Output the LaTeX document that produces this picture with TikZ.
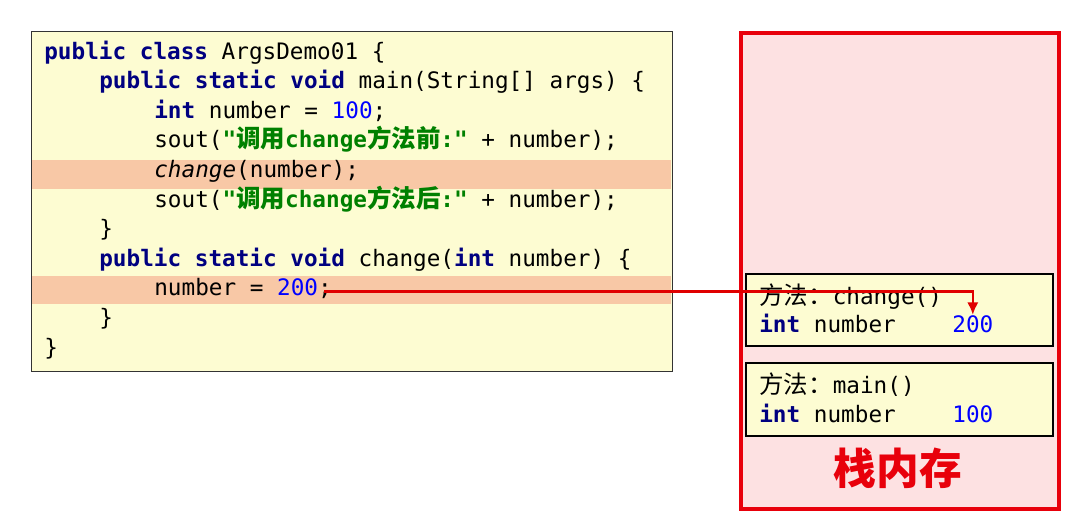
\documentclass[tikz,border=0pt]{standalone}
\usepackage{fontspec}
\setmonofont{DejaVu Sans Mono}
\newfontfamily\cjk[Scale=1.08]{Noto Sans CJK SC}
\usepackage{tikz}
\usetikzlibrary{arrows.meta}
\definecolor{codebg}{HTML}{FDFCD2}
\definecolor{band}{HTML}{F8C8A6}
\definecolor{kwnavy}{HTML}{000080}
\definecolor{numblue}{HTML}{0000FF}
\definecolor{strgreen}{HTML}{008000}
\definecolor{stackred}{HTML}{E8000B}
\definecolor{stackbg}{HTML}{FDE1E2}
\definecolor{arrowred}{HTML}{E00000}
\newcommand{\kwd}[1]{\textbf{\color{kwnavy}#1}}
\newcommand{\strg}[1]{\textbf{\color{strgreen}#1}}
\newcommand{\numv}[1]{{\color{numblue}#1}}

\begin{document}
\begin{tikzpicture}[x=0.02cm,y=-0.02cm,>=Latex,
    code/.style={anchor=base west,inner sep=0pt,font=\ttfamily\fontsize{12.9}{15}\selectfont},
    frame/.style={anchor=north west,draw=black,line width=0.9pt,fill=codebg,minimum width=6.14cm,inner sep=0pt}]
      \useasboundingbox (0,0) rectangle (1073,524);
      \fill[white] (0,0) rectangle (1073,524);
      % code panel
      \node[anchor=north west,draw=black!80,line width=0.85pt,fill=codebg,minimum width=12.82cm,minimum height=6.8cm] (codebox) at (31,31) {};
      \fill[band] (32,160) rectangle (671,189);
      \fill[band] (32,276) rectangle (671,304);
      \foreach \i/\x/\txt in {0/44/{\kwd{public} \kwd{class} ArgsDemo01 \{},
          1/99/{\kwd{public} \kwd{static} \kwd{void} main(String[] args) \{},
          2/154/{\kwd{int} number = \numv{100};},
          3/154/{sout(\strg{"{\cjk 调用}change{\cjk 方法前}:"} + number);},
          4/154/{\textit{change}(number);},
          5/154/{sout(\strg{"{\cjk 调用}change{\cjk 方法后}:"} + number);},
          6/99/{\}},
          7/99/{\kwd{public} \kwd{static} \kwd{void} change(\kwd{int} number) \{},
          8/154/{number = \numv{200};},
          9/99/{\}},
          10/44/{\}}}
        \node[code] (cl\i) at (\x,{59+29.6*\i}) {\txt};
      % stack memory
      \node[anchor=north west,draw=stackred,line width=0.08cm,fill=stackbg,minimum width=6.36cm,minimum height=9.52cm] (stack) at (739,31) {};
      \node[frame,minimum height=1.44cm] (chgframe) at (745,273) {};
      \node[frame,minimum height=1.46cm] (mainframe) at (745,362) {};
      \node[code] (chgname) at (759,304) {{\cjk 方法：}change()};
      \node[code] (chgvar) at (759,332) {\kwd{int} number};
      \node[code] (chgval) at (952,332) {\numv{200}};
      \node[code] (mainname) at (759,393) {{\cjk 方法：}main()};
      \node[code] (mainvar) at (759,422) {\kwd{int} number};
      \node[code] (mainval) at (952,422) {\numv{100}};
      \node[text=stackred,font=\cjk\bfseries\fontsize{22.5}{26}\selectfont] (stacklbl) at (898,468) {栈内存};
      \draw[-{Latex[length=0.25cm,width=0.23cm]},arrowred,line width=1.5pt]
        ([xshift=-0.16cm,yshift=-0.06cm]cl8.east) -| (chgval.north);
    \end{tikzpicture}
\end{document}
